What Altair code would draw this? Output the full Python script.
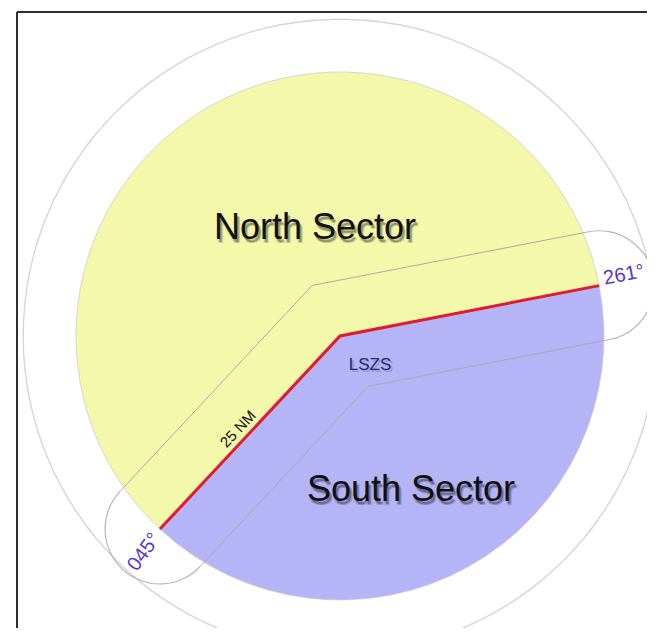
import altair as alt
import numpy as np
import pandas as pd

# ---------------- data ----------------
sector_names = ["North Sector", "South Sector"]
sector_start_deg = [223.0, 79.0]      # clockwise from north
sector_end_deg = [439.0, 223.0]
sector_colors = ["#f4f8ab", "#b4b4f6"]
sector_radius_nm = 25.0
outer_radius_nm = 30.0
buffer_nm = 5.2
boundary_bearings = [223.0, 79.0]
boundary_labels = ["045°", "261°"]
station_label = "LSZS"
distance_label = "25 NM"

# ---------------- layout ----------------
W, H = 639, 620
CX, CY = 332, 328          # station position inside plot (px)
K = 264 / 25.0             # px per NM


def page_to_nm(px, py):
    return (px - 8 - CX) / K, (CY - (py - 8)) / K


def unit(b):
    r = np.radians(b)
    return np.array([np.sin(r), np.cos(r)])


xs = alt.Scale(domain=[-CX / K, (W - CX) / K], nice=False, zero=False)
ys = alt.Scale(domain=[-(H - CY) / K, CY / K], nice=False, zero=False)
rs = alt.Scale(type="linear", domain=[0, outer_radius_nm], range=[0, outer_radius_nm * K], zero=True, nice=False)

X = alt.X("x:Q", scale=xs, axis=None)
Y = alt.Y("y:Q", scale=ys, axis=None)

# sectors
sec_df = pd.DataFrame({
    "name": sector_names,
    "x": [0.0, 0.0], "y": [0.0, 0.0],
    "t0": np.radians(sector_start_deg), "t1": np.radians(sector_end_deg),
    "r": [sector_radius_nm] * 2,
})
sectors = alt.Chart(sec_df).mark_arc(stroke="#cdcdcd", strokeWidth=0.8).encode(
    x=X, y=Y,
    theta=alt.Theta("t0:Q", scale=None, stack=False), theta2="t1:Q",
    radius=alt.Radius("r:Q", scale=rs),
    color=alt.Color("name:N", scale=alt.Scale(domain=sector_names, range=sector_colors), legend=None),
)

# outer circle (thin ring)
hw_outer = 0.7 / K
outer_df = pd.DataFrame({"x": [0.0], "y": [0.0], "t0": [0.0], "t1": [2 * np.pi],
                         "r": [outer_radius_nm + hw_outer], "r2": [outer_radius_nm - hw_outer]})
outer = alt.Chart(outer_df).mark_arc(color="#d6d6d6").encode(
    x=X, y=Y,
    theta=alt.Theta("t0:Q", scale=None, stack=False), theta2="t1:Q",
    radius=alt.Radius("r:Q", scale=rs), radius2="r2:Q",
)

# buffer caps (semicircles at the ends of the boundary)
hw_cap = 0.6 / K
cap_rows = []
for b in boundary_bearings:
    e = unit(b) * sector_radius_nm
    cap_rows.append({"x": e[0], "y": e[1],
                     "t0": np.radians(b - 90 + 360), "t1": np.radians(b + 90 + 360),
                     "r": buffer_nm + hw_cap, "r2": buffer_nm - hw_cap})
caps = alt.Chart(pd.DataFrame(cap_rows)).mark_arc(color="#b8b8b8").encode(
    x=X, y=Y,
    theta=alt.Theta("t0:Q", scale=None, stack=False), theta2="t1:Q",
    radius=alt.Radius("r:Q", scale=rs), radius2="r2:Q",
)

# buffer parallel lines
b1, b2 = boundary_bearings
half = (b1 - b2) / 2.0
corner_dist = buffer_nm / np.sin(np.radians(half))
buf_rows = []
# south side
n1, n2 = b1 - 90, b2 + 90
c = unit((b1 + b2) / 2.0) * corner_dist
pts = [unit(b1) * sector_radius_nm + unit(n1) * buffer_nm, c, unit(b2) * sector_radius_nm + unit(n2) * buffer_nm]
for i, p in enumerate(pts):
    buf_rows.append({"side": "south", "o": i, "x": p[0], "y": p[1]})
# north side
n1, n2 = b1 + 90, b2 - 90
c = unit((b1 + b2) / 2.0 + 180) * corner_dist
pts = [unit(b1) * sector_radius_nm + unit(n1) * buffer_nm, c, unit(b2) * sector_radius_nm + unit(n2) * buffer_nm]
for i, p in enumerate(pts):
    buf_rows.append({"side": "north", "o": i, "x": p[0], "y": p[1]})
buffers = alt.Chart(pd.DataFrame(buf_rows)).mark_line(color="#ababab", strokeWidth=1).encode(
    x=X, y=Y, detail="side:N", order="o:Q")

# red boundary
e1 = unit(b1) * sector_radius_nm
e2 = unit(b2) * sector_radius_nm
red_df = pd.DataFrame({"o": [0, 1, 2], "x": [e1[0], 0.0, e2[0]], "y": [e1[1], 0.0, e2[1]]})
red = alt.Chart(red_df).mark_line(color="#e3192d", strokeWidth=3, strokeJoin="miter").encode(
    x=X, y=Y, order="o:Q")

FONT = "Liberation Sans"

# sector titles with soft shadow
nx, ny = page_to_nm(315, 239)
sx, sy = page_to_nm(411, 501)
title_df = pd.DataFrame({"label": sector_names, "x": [nx, sx], "y": [ny, sy]})
shadow_layers = []
for dx, dy, op in [(2, 3, 0.22), (3, 4, 0.14), (1, 4, 0.1)]:
    shadow_layers.append(
        alt.Chart(title_df).mark_text(font=FONT, fontSize=36, color="#000000", opacity=op,
                                      dx=dx, dy=dy, baseline="alphabetic", align="center")
        .encode(x=X, y=Y, text="label:N"))
titles = alt.Chart(title_df).mark_text(font=FONT, fontSize=36, color="#111111",
                                       baseline="alphabetic", align="center").encode(
    x=X, y=Y, text="label:N")

# station label
lx, ly = page_to_nm(370, 370)
st_df = pd.DataFrame({"label": [station_label], "x": [lx], "y": [ly]})
st_shadow = alt.Chart(st_df).mark_text(font=FONT, fontSize=17, color="#000000", opacity=0.15,
                                       dx=2, dy=2, baseline="alphabetic", align="center").encode(
    x=X, y=Y, text="label:N")
st = alt.Chart(st_df).mark_text(font=FONT, fontSize=17, color="#26266e",
                                baseline="alphabetic", align="center").encode(
    x=X, y=Y, text="label:N")

# distance label
dx_, dy_ = page_to_nm(238, 429)
dist_df = pd.DataFrame({"label": [distance_label], "x": [dx_], "y": [dy_]})
dist = alt.Chart(dist_df).mark_text(font=FONT, fontSize=15, color="#111111", angle=313,
                                    baseline="middle", align="center").encode(
    x=X, y=Y, text="label:N")

# bearing labels
p1 = page_to_nm(144, 552)
p2 = page_to_nm(624, 275)
bl_df = pd.DataFrame({"label": boundary_labels, "x": [p1[0], p2[0]], "y": [p1[1], p2[1]],
                      "ang": [306, 349]})
blabels = alt.Chart(bl_df).mark_text(font=FONT, fontSize=20, color="#5a34cf",
                                     baseline="middle", align="center").encode(
    x=X, y=Y, text="label:N", angle=alt.Angle("ang:Q", scale=None))

# frame (top and left edges)
frame_top = alt.Chart(title_df).mark_rule(color="#222222", strokeWidth=1.5).encode(
    x=alt.value(9), x2=alt.value(W), y=alt.value(4))
frame_left = alt.Chart(title_df).mark_rule(color="#222222", strokeWidth=1.5).encode(
    x=alt.value(9), y=alt.value(4), y2=alt.value(H))

chart = alt.layer(
    outer, sectors, caps, buffers, red, *shadow_layers, titles, st_shadow, st, dist, blabels,
    frame_top, frame_left,
).properties(
    width=W, height=H, padding=0, autosize=alt.AutoSizeParams(type="none"), background="white"
).configure_view(stroke="transparent")

chart.save("out.html", embed_options={"renderer": "svg", "actions": False})
